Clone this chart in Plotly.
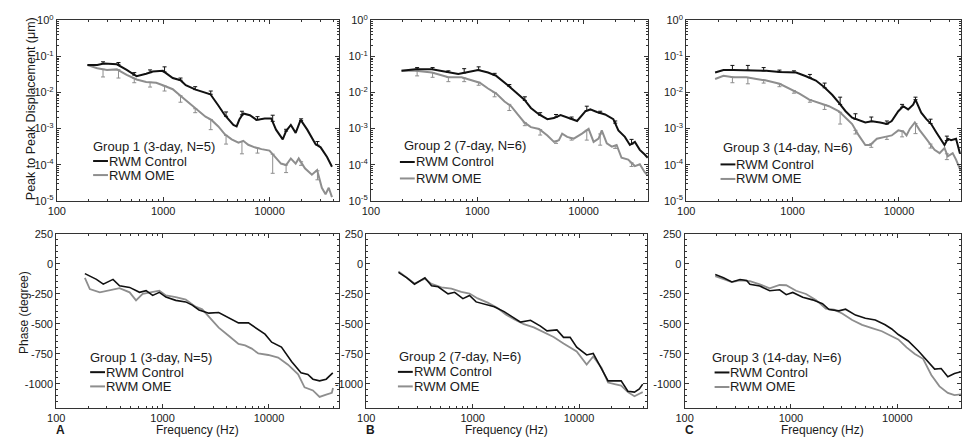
import numpy as np
import plotly.graph_objects as go

# ---------------- data ----------------
# Top row: peak-to-peak displacement, stored as log10(um)
c1_f = [194, 240, 277, 367, 454, 562, 692, 800, 993, 1230, 1455, 1630, 2020, 2780, 3300, 3800, 4570, 4900, 5200, 5660, 6530, 7530, 9000, 10360, 11500, 13300, 14300, 15850, 17600, 19600, 22600, 27000, 30200, 34700, 38600]
c1_v = [-1.24, -1.24, -1.20, -1.22, -1.375, -1.55, -1.48, -1.42, -1.40, -1.60, -1.66, -1.80, -1.92, -2.05, -2.36, -2.63, -2.90, -2.94, -2.75, -2.58, -2.63, -2.76, -2.72, -2.72, -3.03, -3.30, -3.07, -2.90, -3.12, -2.76, -3.03, -3.43, -3.52, -3.79, -4.06]
o1_f = [194, 240, 296, 367, 454, 562, 692, 860, 993, 1230, 1520, 1870, 2020, 2500, 2840, 3300, 3800, 4400, 5100, 5660, 6300, 7250, 8400, 9980, 11000, 12800, 14300, 15850, 17600, 18800, 21500, 25000, 28000, 31000, 33600, 36000, 38600]
o1_v = [-1.24, -1.33, -1.375, -1.36, -1.51, -1.64, -1.71, -1.73, -1.80, -1.91, -2.14, -2.36, -2.46, -2.67, -2.76, -2.94, -3.16, -3.30, -3.39, -3.34, -3.45, -3.52, -3.57, -3.61, -3.75, -3.97, -4.01, -3.83, -3.97, -3.83, -4.10, -4.28, -4.15, -4.64, -4.82, -4.64, -4.90]

c2_f = [194, 262, 375, 535, 663, 822, 1019, 1262, 1508, 1936, 2400, 2770, 3190, 3810, 4560, 5260, 6070, 7250, 8670, 10370, 11540, 13300, 15900, 19000, 21200, 24400, 27200, 30300, 33700, 37500, 40000]
c2_v = [-1.40, -1.357, -1.357, -1.446, -1.49, -1.43, -1.375, -1.446, -1.54, -1.80, -2.03, -2.20, -2.43, -2.61, -2.74, -2.71, -2.625, -2.70, -2.79, -2.52, -2.47, -2.54, -2.61, -2.74, -3.05, -3.23, -3.455, -3.37, -3.59, -3.72, -3.81]
o2_f = [194, 262, 375, 535, 713, 883, 1055, 1262, 1508, 1803, 2080, 2400, 2770, 3190, 3810, 4560, 5260, 5850, 6280, 7000, 8070, 9640, 11130, 12400, 13800, 14800, 16500, 18400, 20400, 22700, 26200, 30300, 33700, 37500, 40000]
o2_v = [-1.40, -1.40, -1.446, -1.58, -1.58, -1.67, -1.73, -1.89, -2.03, -2.25, -2.38, -2.61, -2.83, -2.96, -3.01, -3.19, -3.37, -3.32, -3.14, -3.23, -3.28, -3.14, -3.01, -3.37, -3.28, -3.05, -3.41, -3.50, -3.455, -3.81, -3.86, -4.04, -3.99, -4.21, -4.30]

c3_f = [187, 224, 277, 369, 566, 755, 935, 1080, 1337, 1656, 1978, 2366, 2730, 3150, 3630, 4190, 4830, 5570, 6660, 7680, 8550, 9860, 10970, 12200, 13600, 14300, 15100, 16200, 18100, 20100, 22400, 24900, 26800, 28800, 30900, 34400, 37500]
c3_v = [-1.446, -1.38, -1.375, -1.38, -1.40, -1.43, -1.446, -1.446, -1.55, -1.67, -1.85, -2.07, -2.29, -2.52, -2.70, -2.77, -2.83, -2.80, -2.83, -2.875, -2.79, -2.52, -2.38, -2.47, -2.34, -2.20, -2.34, -2.56, -2.74, -2.875, -3.10, -3.32, -3.455, -3.28, -3.32, -3.28, -3.70]
o3_f = [187, 224, 277, 369, 458, 566, 755, 935, 1160, 1436, 1778, 2200, 2730, 3150, 3630, 4190, 4830, 5370, 6200, 7410, 8550, 9860, 10970, 11780, 12650, 14100, 15700, 17500, 19400, 21600, 24100, 26800, 28800, 32000, 34400, 37800]
o3_v = [-1.625, -1.54, -1.58, -1.58, -1.625, -1.67, -1.76, -1.89, -2.03, -2.20, -2.29, -2.38, -2.52, -2.70, -2.875, -3.19, -3.455, -3.455, -3.28, -3.23, -3.19, -3.05, -3.08, -3.19, -3.01, -2.83, -3.05, -3.23, -3.41, -3.59, -3.68, -3.54, -3.77, -3.68, -3.86, -4.15]

# error bars (log10 um): frequency, curve value, bar end
eb_f = [272, 380, 535, 753, 1030, 1455, 2000, 2800, 3900, 5500, 7700, 10700, 14300, 19800, 28200]
c1_eb_base = [-1.20, -1.22, -1.52, -1.45, -1.43, -1.66, -1.92, -2.05, -2.66, -2.62, -2.755, -2.80, -3.07, -2.78, -3.46]
c1_eb_top = [-1.15, -1.17, -1.45, -1.375, -1.29, -1.60, -1.84, -1.96, -2.54, -2.52, -2.67, -2.63, -3.02, -2.73, -3.36]
o1_eb_base = [-1.36, -1.37, -1.61, -1.72, -1.82, -2.09, -2.45, -2.75, -3.19, -3.36, -3.54, -3.71, -4.01, -3.92, -4.17]
o1_eb_bot = [-1.57, -1.60, -1.73, -1.85, -1.96, -2.27, -2.56, -3.03, -3.43, -3.70, -3.68, -4.24, -4.22, -4.02, -4.42]
c2_eb_base = [-1.357, -1.36, -1.446, -1.46, -1.38, -1.52, -1.83, -2.22, -2.63, -2.68, -2.73, -2.50, -2.57, -2.85, -3.43]
c2_eb_top = [-1.31, -1.31, -1.40, -1.34, -1.29, -1.47, -1.78, -2.12, -2.56, -2.61, -2.68, -2.38, -2.52, -2.79, -3.30]
o2_eb_base = [-1.40, -1.45, -1.58, -1.60, -1.72, -2.00, -2.33, -2.84, -3.03, -3.35, -3.27, -3.05, -3.15, -3.47, -3.95]
o2_eb_bot = [-1.54, -1.58, -1.70, -1.70, -1.80, -2.12, -2.50, -2.92, -3.18, -3.41, -3.32, -3.32, -3.46, -3.55, -4.05]
c3_eb_base = [-1.375, -1.38, -1.40, -1.43, -1.446, -1.59, -1.87, -2.33, -2.74, -2.80, -2.875, -2.41, -2.20, -2.86, -3.33]
c3_eb_top = [-1.25, -1.25, -1.31, -1.38, -1.40, -1.50, -1.74, -2.13, -2.59, -2.68, -2.79, -2.33, -2.13, -2.74, -3.21]
o3_eb_base = [-1.575, -1.585, -1.66, -1.76, -1.95, -2.20, -2.34, -2.55, -3.05, -3.42, -3.22, -3.07, -2.86, -3.43, -3.70]
o3_eb_bot = [-1.73, -1.76, -1.74, -1.84, -2.02, -2.27, -2.47, -2.875, -3.15, -3.52, -3.30, -3.23, -3.14, -3.54, -3.86]

# Bottom row: phase (degree)
pc1_f = [186, 239, 277, 342, 394, 490, 607, 700, 807, 933, 1074, 1330, 1650, 1900, 2200, 2720, 3370, 4180, 5170, 6410, 7940, 9180, 10600, 13100, 16300, 20000, 23200, 25900, 29900, 34500, 39800]
pc1_v = [-81, -129, -169, -129, -183, -196, -237, -223, -263, -237, -277, -304, -317, -344, -384, -411, -406, -452, -492, -492, -546, -586, -653, -694, -814, -909, -922, -962, -976, -962, -909]
po1_f = [186, 207, 257, 297, 342, 394, 490, 563, 650, 807, 933, 1074, 1330, 1650, 2040, 2360, 2720, 3370, 4180, 5170, 5970, 6890, 7940, 9860, 12200, 15100, 18800, 21600, 25900, 29900, 34500, 39000, 40000]
po1_v = [-116, -210, -237, -223, -210, -202, -237, -304, -250, -237, -223, -263, -277, -298, -357, -379, -438, -532, -600, -667, -680, -707, -747, -760, -782, -841, -922, -1030, -1056, -1110, -1090, -1075, -1035]

pc2_f = [201, 241, 284, 356, 411, 474, 587, 678, 810, 935, 1079, 1384, 1596, 1977, 2450, 2825, 3500, 4340, 5000, 6200, 7150, 8250, 9510, 11800, 13600, 15700, 18750, 21600, 24900, 28800, 33200, 36900, 39700]
pc2_v = [-70, -116, -169, -116, -183, -191, -250, -237, -290, -263, -317, -344, -357, -398, -452, -486, -470, -519, -559, -551, -613, -613, -694, -760, -747, -855, -976, -976, -976, -1062, -1070, -1043, -1003]
po2_f = [201, 241, 284, 356, 411, 509, 631, 782, 935, 1117, 1384, 1714, 2050, 2450, 3030, 3760, 4660, 5770, 7150, 8250, 9510, 11800, 13600, 16250, 18750, 21600, 24900, 28800, 33200, 36900, 39700]
po2_v = [-62, -116, -164, -124, -167, -196, -207, -234, -247, -288, -323, -368, -422, -462, -503, -530, -570, -610, -664, -699, -731, -839, -772, -866, -990, -1003, -1016, -1070, -1105, -1083, -1070]

pc3_f = [194, 232, 278, 332, 383, 411, 509, 631, 782, 902, 1040, 1288, 1596, 1977, 2280, 2825, 3260, 4040, 5000, 6200, 7670, 8850, 10200, 12650, 15700, 19400, 22400, 25800, 29800, 34400, 39700]
pc3_v = [-89, -116, -151, -130, -138, -170, -184, -224, -216, -257, -238, -278, -300, -332, -381, -392, -378, -427, -454, -468, -508, -543, -589, -643, -724, -819, -878, -873, -941, -914, -900]
po3_f = [194, 232, 278, 332, 411, 509, 631, 782, 902, 1117, 1384, 1714, 2125, 2540, 3030, 3760, 4660, 5770, 7150, 8850, 10200, 12200, 14600, 17450, 20850, 24900, 29800, 34400, 39700]
po3_v = [-103, -130, -151, -138, -143, -170, -203, -176, -178, -224, -251, -300, -373, -381, -414, -468, -508, -535, -562, -603, -630, -697, -751, -792, -927, -1022, -1076, -1095, -1089]

group_labels = ["Group 1 (3-day, N=5)", "Group 2 (7-day, N=6)", "Group 3 (14-day, N=6)"]
series_names = ["RWM Control", "RWM OME"]
panel_letters = ["A", "B", "C"]
x_tick_vals = [100, 1000, 10000]
x_tick_text = ["100", "1000", "10000"]
disp_tick_vals = [1, 0.1, 0.01, 0.001, 0.0001, 0.00001]
disp_tick_text = ["10<sup>0</sup>", "10<sup>-1</sup>", "10<sup>-2</sup>", "10<sup>-3</sup>", "10<sup>-4</sup>", "10<sup>-5</sup>"]
phase_tick_vals = [250, 0, -250, -500, -750, -1000]
phase_tick_text = ["250", "0", "-250", "-500", "-750", "-1000"]

# ---------------- layout geometry (pixels) ----------------
W, H = 962, 445
FONT = "Liberation Sans, Arial, Helvetica, sans-serif"
BLACK = "#111111"
GRAY = "#8e8e8e"
AXC = "#333333"
TXT = "#1a1a1a"
DECADE_PX = 107.5
top_boxes = [(48.3, 333.3), (365.7, 646.0), (684.3, 962.0)]
bot_boxes = [(47.7, 333.0), (361.0, 645.0), (682.7, 962.0)]
TOP_Y = (12.7, 199.0)
BOT_Y = (233.3, 412.7)


def px(x):
    return x / W


def py(y):
    return 1 - y / H


minor_x = [d * 10 ** e for e in (2, 3, 4) for d in range(2, 10)]
minor_disp = [d * 10.0 ** e for e in range(-5, 0) for d in range(2, 10)]


def x_axis(box, anchor):
    l, r = box
    return dict(type="log", domain=[px(l), min(1.0, px(r))], range=[2, 2 + (r - l) / DECADE_PX], anchor=anchor,
                tickmode="array", tickvals=x_tick_vals, ticktext=x_tick_text,
                ticks="inside", ticklen=4, tickwidth=1, tickcolor=AXC,
                minor=dict(tickmode="array", tickvals=minor_x, ticks="inside", ticklen=2,
                           tickwidth=1, tickcolor=AXC, showgrid=False),
                showline=True, linecolor=AXC, linewidth=1, mirror="ticks",
                showgrid=False, zeroline=False,
                tickfont=dict(family=FONT, size=11, color=TXT))


def y_axis_top(anchor):
    return dict(type="log", domain=[py(TOP_Y[1]), py(TOP_Y[0])], range=[-5, 0], anchor=anchor,
                tickmode="array", tickvals=disp_tick_vals, ticktext=disp_tick_text,
                ticks="inside", ticklen=4, tickwidth=1, tickcolor=AXC,
                minor=dict(tickmode="array", tickvals=minor_disp, ticks="inside", ticklen=2,
                           tickwidth=1, tickcolor=AXC, showgrid=False),
                showline=True, linecolor=AXC, linewidth=1, mirror="ticks",
                showgrid=False, zeroline=False,
                tickfont=dict(family=FONT, size=11, color=TXT))


def y_axis_bot(anchor):
    return dict(type="linear", domain=[py(BOT_Y[1]), py(BOT_Y[0])], range=[-1200, 250], anchor=anchor,
                tickmode="array", tickvals=phase_tick_vals, ticktext=phase_tick_text,
                ticks="inside", ticklen=4, tickwidth=1, tickcolor=AXC,
                minor=dict(tickmode="linear", tick0=0, dtick=50, ticks="inside", ticklen=2,
                           tickwidth=1, tickcolor=AXC, showgrid=False),
                showline=True, linecolor=AXC, linewidth=1, mirror="ticks",
                showgrid=False, zeroline=False,
                tickfont=dict(family=FONT, size=11, color=TXT))


fig = go.Figure()

top_data = [
    (c1_f, c1_v, o1_f, o1_v, c1_eb_base, c1_eb_top, o1_eb_base, o1_eb_bot),
    (c2_f, c2_v, o2_f, o2_v, c2_eb_base, c2_eb_top, o2_eb_base, o2_eb_bot),
    (c3_f, c3_v, o3_f, o3_v, c3_eb_base, c3_eb_top, o3_eb_base, o3_eb_bot),
]
bot_data = [
    (pc1_f, pc1_v, po1_f, po1_v),
    (pc2_f, pc2_v, po2_f, po2_v),
    (pc3_f, pc3_v, po3_f, po3_v),
]

for i, (cf, cv, of, ov, cb, ct, ob, obot) in enumerate(top_data):
    xa, ya = ("x" if i == 0 else f"x{i+1}"), ("y" if i == 0 else f"y{i+1}")
    cb_lin, ct_lin = 10 ** np.array(cb), 10 ** np.array(ct)
    ob_lin, obot_lin = 10 ** np.array(ob), 10 ** np.array(obot)
    # OME (gray) under control (black)
    fig.add_trace(go.Scatter(x=of, y=10 ** np.array(ov), mode="lines", name=series_names[1],
                             line=dict(color=GRAY, width=2), xaxis=xa, yaxis=ya, showlegend=False))
    fig.add_trace(go.Scatter(x=eb_f, y=ob_lin, mode="markers", marker=dict(size=1, color="rgba(0,0,0,0)"),
                             error_y=dict(type="data", symmetric=False, array=[0] * len(eb_f),
                                          arrayminus=list(ob_lin - obot_lin), color=GRAY, thickness=1, width=2),
                             xaxis=xa, yaxis=ya, showlegend=False, hoverinfo="skip"))
    fig.add_trace(go.Scatter(x=cf, y=10 ** np.array(cv), mode="lines", name=series_names[0],
                             line=dict(color=BLACK, width=2), xaxis=xa, yaxis=ya, showlegend=False))
    fig.add_trace(go.Scatter(x=eb_f, y=cb_lin, mode="markers", marker=dict(size=1, color="rgba(0,0,0,0)"),
                             error_y=dict(type="data", symmetric=False, array=list(ct_lin - cb_lin),
                                          arrayminus=[0] * len(eb_f), color=BLACK, thickness=1, width=2),
                             xaxis=xa, yaxis=ya, showlegend=False, hoverinfo="skip"))

for i, (cf, cv, of, ov) in enumerate(bot_data):
    xa, ya = f"x{i+4}", f"y{i+4}"
    fig.add_trace(go.Scatter(x=of, y=ov, mode="lines", name=series_names[1],
                             line=dict(color=GRAY, width=1.8), xaxis=xa, yaxis=ya, showlegend=False))
    fig.add_trace(go.Scatter(x=cf, y=cv, mode="lines", name=series_names[0],
                             line=dict(color=BLACK, width=1.6), xaxis=xa, yaxis=ya, showlegend=False))

layout = dict(width=W, height=H, autosize=False, margin=dict(l=0, r=0, t=0, b=0, pad=0),
              paper_bgcolor="white", plot_bgcolor="white", showlegend=False,
              font=dict(family=FONT, size=11, color=TXT))
for i in range(3):
    k = "" if i == 0 else str(i + 1)
    layout["xaxis" + k] = x_axis(top_boxes[i], "y" + k)
    layout["yaxis" + k] = y_axis_top("x" + k)
    layout[f"xaxis{i+4}"] = x_axis(bot_boxes[i], f"y{i+4}")
    layout[f"yaxis{i+4}"] = y_axis_bot(f"x{i+4}")
fig.update_layout(**layout)

# legend-like labels inside each panel: (group x, group y, line x, control y, OME y)
leg_top = [(83, 143.5, 85, 158, 172.5), (397, 142, 395, 159, 176), (719, 144, 719, 161.5, 176.5)]
leg_bot = [(80, 361, 82, 376, 390.7), (392, 360, 393, 375.7, 390.7), (708, 361, 713, 376.3, 391.3)]
annotations = []
shapes = []
SAMPLE = 15
for (gx, gy, lx, cy, oy), grp in list(zip(leg_top, group_labels)) + list(zip(leg_bot, group_labels)):
    annotations.append(dict(x=px(gx), y=py(gy), xref="paper", yref="paper", text=grp, showarrow=False,
                            xanchor="left", yanchor="middle", font=dict(family=FONT, size=13, color=TXT)))
    for yy, name, col in ((cy, series_names[0], BLACK), (oy, series_names[1], GRAY)):
        shapes.append(dict(type="line", xref="paper", yref="paper", x0=px(lx), x1=px(lx + SAMPLE),
                           y0=py(yy), y1=py(yy), line=dict(color=col, width=2)))
        annotations.append(dict(x=px(lx + SAMPLE - 1), y=py(yy), xref="paper", yref="paper", text=name,
                                showarrow=False, xanchor="left", yanchor="middle",
                                font=dict(family=FONT, size=13, color=TXT)))

# axis titles
annotations.append(dict(x=px(21.7), y=py(104), xref="paper", yref="paper",
                        text="Peak to Peak Displacement (\u03bcm)", textangle=-90, showarrow=False,
                        xanchor="center", yanchor="middle", font=dict(family=FONT, size=12.5, color=TXT)))
annotations.append(dict(x=px(15), y=py(314), xref="paper", yref="paper",
                        text="Phase (degree)", textangle=-90, showarrow=False,
                        xanchor="center", yanchor="middle", font=dict(family=FONT, size=12, color=TXT)))
freq_title_y = [435.5, 435.5, 435.5]
letter_y = [435.5, 435.5, 435.5]
for i, (l, r) in enumerate(bot_boxes):
    annotations.append(dict(x=px((l + r) / 2), y=py(freq_title_y[i]), xref="paper", yref="paper",
                            text="Frequency (Hz)", showarrow=False, xanchor="center", yanchor="middle",
                            font=dict(family=FONT, size=12, color=TXT), borderpad=0))
    annotations.append(dict(x=px(l - 1), y=py(letter_y[i]), xref="paper", yref="paper",
                            text="<b>" + panel_letters[i] + "</b>", showarrow=False, xanchor="left",
                            yanchor="middle", font=dict(family=FONT, size=12, color=TXT), borderpad=0))

fig.update_layout(annotations=annotations, shapes=shapes)
fig.write_html("out.html", config={"responsive": False, "displayModeBar": False},
               post_script="document.body.style.margin='0';document.body.style.padding='0';"
                           "document.body.style.overflow='hidden';"
                           "document.documentElement.style.overflow='hidden';")
